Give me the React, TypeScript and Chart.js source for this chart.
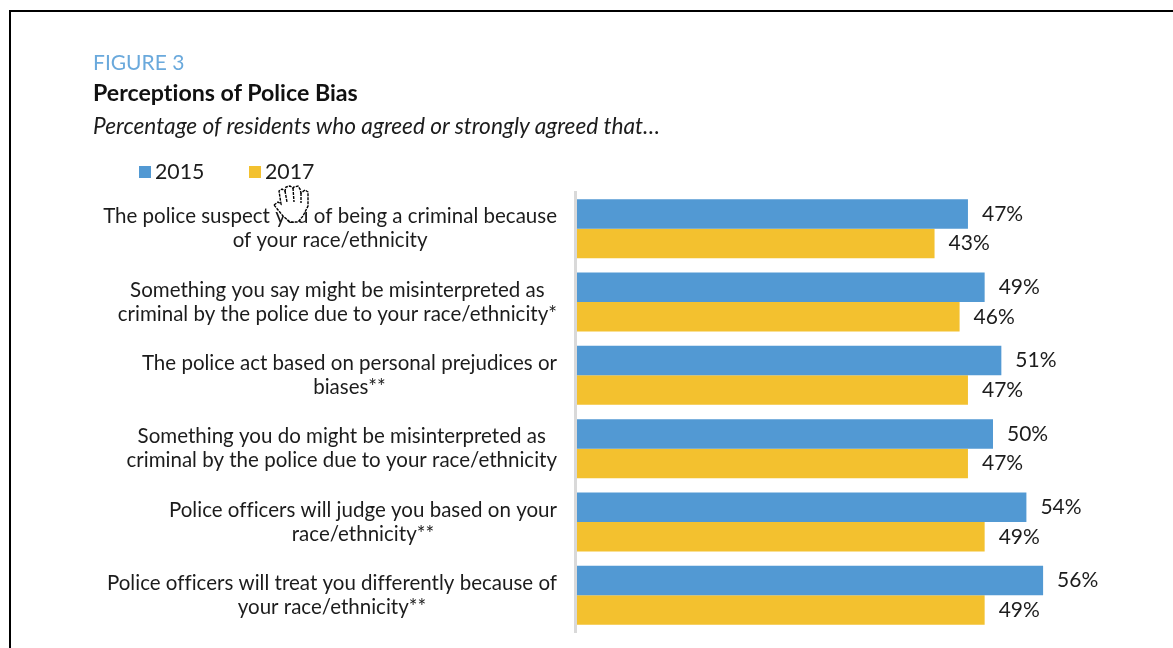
import { useEffect, useRef } from "react";
import { Chart, registerables } from "chart.js";

Chart.register(...registerables);

const categories: string[][] = [
  ["The police suspect you of being a criminal because", "of your race/ethnicity"],
  ["Something you say might be misinterpreted as", "criminal by the police due to your race/ethnicity*"],
  ["The police act based on personal prejudices or", "biases**"],
  ["Something you do might be misinterpreted as", "criminal by the police due to your race/ethnicity"],
  ["Police officers will judge you based on your", "race/ethnicity**"],
  ["Police officers will treat you differently because of", "your race/ethnicity**"],
];
const values2015 = [47, 49, 51, 50, 54, 56];
const values2017 = [43, 46, 47, 47, 49, 49];
const BLUE = "#5299d3";
const YELLOW = "#f3c12f";
const FONT = "Lato, 'Open Sans', sans-serif";
const INK = "#1c1c1c";

// Each category label is a centred block whose right edge sits next to the axis.
const categoryLabels = {
  id: "categoryLabels",
  afterDraw(chart: any) {
    const { ctx, scales } = chart;
    ctx.save();
    ctx.font = `20.5px ${FONT}`;
    ctx.fontVariantCaps = "normal";
    ctx.letterSpacing = "0.01px";
    ctx.fillStyle = INK;
    ctx.textAlign = "center";
    ctx.textBaseline = "middle";
    categories.forEach((lines, i) => {
      const widest = Math.max(...lines.map((l) => ctx.measureText(l).width));
      const cx = 557 - widest / 2;
      const cy = scales.y.getPixelForValue(i);
      lines.forEach((line, k) => ctx.fillText(line, cx, cy + (k - 0.5) * 24));
    });
    ctx.restore();
  },
};

// Percentage labels to the right of every bar.
const valueLabels = {
  id: "valueLabels",
  afterDatasetsDraw(chart: any) {
    const { ctx } = chart;
    ctx.save();
    ctx.font = `21px ${FONT}`;
    ctx.fillStyle = INK;
    ctx.textAlign = "left";
    ctx.textBaseline = "middle";
    chart.data.datasets.forEach((ds: any, d: number) => {
      chart.getDatasetMeta(d).data.forEach((bar: any, i: number) => {
        ctx.fillText(`${ds.data[i]}%`, bar.x + 14, bar.y);
      });
    });
    ctx.restore();
  },
};

const abs = (left: number, top: number): React.CSSProperties => ({
  position: "absolute",
  left,
  top,
  whiteSpace: "nowrap",
  fontFamily: FONT,
  fontVariantLigatures: "none",
});

export default function App() {
  const ref = useRef<HTMLCanvasElement>(null);

  useEffect(() => {
    const chart = new Chart(ref.current!, {
      type: "bar",
      data: {
        labels: categories.map((c) => c.join(" ")),
        datasets: [
          { label: "2015", data: values2015, backgroundColor: BLUE },
          { label: "2017", data: values2017, backgroundColor: YELLOW },
        ],
      },
      options: {
        indexAxis: "y",
        animation: false,
        responsive: false,
        layout: { padding: { left: 575.5, top: 192, right: 13, bottom: 16 } },
        datasets: { bar: { categoryPercentage: 0.805, barPercentage: 1 } },
        plugins: { legend: { display: false }, title: { display: false }, tooltip: { enabled: false } },
        scales: {
          x: { display: false, min: 0, max: 70 },
          y: {
            grid: { display: false, drawTicks: false },
            ticks: { display: false },
            border: { display: true, color: "#d9d9d9", width: 3, z: 1 },
          },
        },
      },
      plugins: [categoryLabels, valueLabels],
    });
    return () => chart.destroy();
  }, []);

  return (
    <div style={{ position: "fixed", inset: 0, overflow: "hidden", background: "#fff" }}>
      <div style={{ position: "absolute", left: 9, top: 10, width: 1300, height: 800, borderLeft: "2px solid #000", borderTop: "2px solid #000" }} />
      <canvas ref={ref} width={1173} height={648} style={{ position: "absolute", left: 0, top: 0, display: "block" }} />
      <div style={{ ...abs(93, 49), fontSize: 21, lineHeight: "26px", color: "#6aa9dc" }}>FIGURE 3</div>
      <div style={{ ...abs(93, 79), fontSize: 23.2, lineHeight: "26px", fontWeight: 700, color: "#111" }}>Perceptions of Police Bias</div>
      <div style={{ ...abs(93, 113), fontSize: 22.7, lineHeight: "26px", fontStyle: "italic", color: INK }}>
        Percentage of residents who agreed or strongly agreed that…
      </div>
      <div style={{ ...abs(139, 166), width: 12, height: 12, background: BLUE }} />
      <div style={{ ...abs(155, 158), fontSize: 21.3, lineHeight: "26px", color: INK }}>2015</div>
      <div style={{ ...abs(249, 166), width: 12, height: 12, background: YELLOW }} />
      <div style={{ ...abs(265, 158), fontSize: 21.3, lineHeight: "26px", color: INK }}>2017</div>
      {/* Hand-shaped mouse pointer resting over the first category label */}
      <svg width={40} height={40} viewBox="0 0 40 40" style={{ position: "absolute", left: 272, top: 184 }}>
        <path
          d="M2 21 L6 18 L9 20 L7 7 L10 5 L13 7 L14 3 L18 2 L21 4 L22 3 L26 2 L28 5 L29 9 L33 6 L36 8 L36 22 L31 32 L26 38 L18 38 L11 32 Z"
          fill="#fff"
          stroke="#000"
          strokeWidth={1.4}
          strokeDasharray="3 1"
        />
        <path d="M13 7 L15 18 M21 4 L22 18 M29 9 L29 19" fill="none" stroke="#000" strokeWidth={1.4} strokeDasharray="3 1" />
      </svg>
    </div>
  );
}
